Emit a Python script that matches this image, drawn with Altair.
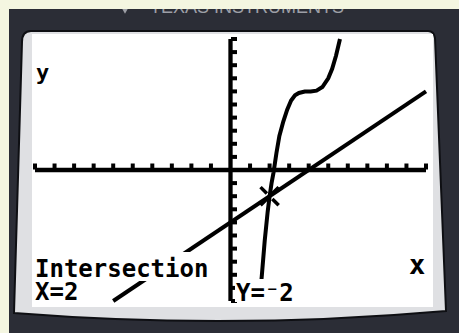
import altair as alt
import pandas as pd

# Graph window: Xmin=-10, Xmax=10, Ymin=-10, Ymax=10, Xscl=Yscl=1
x_window = [-10, 10]
y_window = [-10, 10]
tick_marks = [-10, -9, -8, -7, -6, -5, -4, -3, -2, -1, 1, 2, 3, 4, 5, 6, 7, 8, 9, 10]

# Y1: the cubic-looking curve, traced points
curve_x = [1.48, 1.6, 1.75, 1.9, 2.0, 2.1, 2.2, 2.35, 2.5, 2.7, 2.9, 3.1, 3.3,
           3.5, 3.8, 4.1, 4.4, 4.7, 5.0, 5.2, 5.4, 5.6]
curve_y = [-10, -8.1, -5.4, -3.2, -2.0, -1.0, -0.2, 1.3, 2.6, 3.7, 4.6, 5.3, 5.7,
           5.88, 5.99, 6.0, 6.06, 6.33, 7.0, 7.73, 8.74, 10.0]

# Y2: the straight line
line_x = [-6, 10]
line_y = [-10, 6]

# Intersection result shown on screen
hit_x = [2]
hit_y = [-2]
label_title = "Intersection"
label_x = "X=2"
label_y = "Y=\u207b2"

BEZEL = "#2b2d36"
CREAM = "#f4f6e1"
FRAME = "#dfe0e3"
FONT = "DejaVu Sans Mono"

W, H = 391, 262
PAD_L, PAD_T = 35, 39

xs = alt.Scale(domain=x_window, nice=False, zero=False)
ys = alt.Scale(domain=y_window, nice=False, zero=False)

one = pd.DataFrame({"k": [0]})


def px_rect(x0, y0, x1, y1, color):
    """Rectangle in absolute page pixels."""
    return alt.Chart(one).mark_rect(color=color, opacity=1).encode(
        x=alt.value(x0 - PAD_L), x2=alt.value(x1 - PAD_L),
        y=alt.value(y0 - PAD_T), y2=alt.value(y1 - PAD_T))


def px_text(s, x, y, size, color="black", font=FONT, weight="bold"):
    return alt.Chart(one).mark_text(
        align="left", baseline="alphabetic", font=font, fontSize=size,
        fontWeight=weight, color=color).encode(
        x=alt.value(x - PAD_L), y=alt.value(y - PAD_T), text=alt.value(s))


# calculator body
bezel = px_rect(9, 9, 470, 340, BEZEL)
logo = alt.Chart(one).mark_point(shape="triangle-down", filled=True, size=170,
                                 color="#9d9fa6", opacity=1).encode(
    x=alt.value(125 - PAD_L), y=alt.value(8 - PAD_T))
brand = px_text("TEXAS INSTRUMENTS", 150, 13, 18, color="#9d9fa6",
                font="Liberation Sans", weight="normal")
top_strip = px_rect(0, 0, 470, 9, CREAM)

# light grey screen surround, drawn as one path around centre (230, 176), scale 250
frame_path = ("M-0.832,-0.536 Q-0.832,-0.58 -0.796,-0.58 L0.792,-0.58 "
              "Q0.816,-0.58 0.82,-0.552 L0.864,0.54 Q0,0.616 -0.864,0.548 Z")
frame = alt.Chart(one).mark_point(
    shape=frame_path, size=250000, filled=True, fill=FRAME, stroke="#0e0f13",
    strokeWidth=2, opacity=1).encode(
    x=alt.value(230 - PAD_L), y=alt.value(176 - PAD_T))
screen = px_rect(32, 34, 433, 307, "white")

# axes and tick marks
axes_df = pd.DataFrame({"a0": [x_window[0]], "a1": [x_window[1]], "z": [0]})
x_axis = alt.Chart(axes_df).mark_rule(color="black", strokeWidth=4.3).encode(
    x=alt.X("a0:Q", scale=xs, axis=None), x2="a1:Q",
    y=alt.Y("z:Q", scale=ys, axis=None))
axes_df2 = pd.DataFrame({"b0": [y_window[0]], "b1": [y_window[1]], "z": [0]})
y_axis = alt.Chart(axes_df2).mark_rule(color="black", strokeWidth=4.3).encode(
    y=alt.Y("b0:Q", scale=ys, axis=None), y2="b1:Q",
    x=alt.X("z:Q", scale=xs, axis=None))

ticks_df = pd.DataFrame({"t": tick_marks, "z": [0] * len(tick_marks)})
x_ticks = alt.Chart(ticks_df).mark_tick(
    orient="vertical", size=6, thickness=4, yOffset=-3.5, color="black", opacity=1).encode(
    x=alt.X("t:Q", scale=xs, axis=None), y=alt.Y("z:Q", scale=ys, axis=None))
y_ticks = alt.Chart(ticks_df).mark_tick(
    orient="horizontal", size=6, thickness=4, xOffset=3.5, color="black", opacity=1).encode(
    y=alt.Y("t:Q", scale=ys, axis=None), x=alt.X("z:Q", scale=xs, axis=None))

# graphed functions
line_df = pd.DataFrame({"x": line_x, "y": line_y})
curve_df = pd.DataFrame({"x": curve_x, "y": curve_y})
line = alt.Chart(line_df).mark_line(color="black", strokeWidth=4).encode(
    x=alt.X("x:Q", scale=xs, axis=None), y=alt.Y("y:Q", scale=ys, axis=None))
curve = alt.Chart(curve_df).mark_line(color="black", strokeWidth=4).encode(
    x=alt.X("x:Q", scale=xs, axis=None), y=alt.Y("y:Q", scale=ys, axis=None),
    order="x:Q")

# trace cursor at the intersection
hit_df = pd.DataFrame({"x": hit_x, "y": hit_y})
cursor = alt.Chart(hit_df).mark_point(
    shape="M-1,-1L-0.3,-0.3M1,1L0.3,0.3M-1,1L-0.3,0.3M1,-1L0.3,-0.3",
    size=330, filled=False, stroke="black", strokeWidth=3.5, opacity=1).encode(
    x=alt.X("x:Q", scale=xs, axis=None), y=alt.Y("y:Q", scale=ys, axis=None))

# text cells clear the graph behind them
cell_title = px_rect(34, 252, 215, 281, "white")
cell_x = px_rect(34, 281, 85, 302, "white")
cell_y = px_rect(235, 279, 302, 302, "white")

txt_title = px_text(label_title, 35, 277, 24)
txt_x = px_text(label_x, 35, 300, 24)
txt_y = px_text(label_y, 236, 301, 24)
axis_lbl_y = px_text("y", 36, 80, 22)
axis_lbl_x = px_text("x", 409, 274, 27)

chart = alt.layer(
    bezel, logo, brand, top_strip, frame, screen,
    x_axis, y_axis, x_ticks, y_ticks, line, curve, cursor,
    cell_title, cell_x, cell_y,
    txt_title, txt_x, txt_y, axis_lbl_y, axis_lbl_x,
).properties(
    width=W, height=H,
    padding={"left": PAD_L, "top": PAD_T, "right": 459 - PAD_L - W, "bottom": 333 - PAD_T - H},
    autosize=alt.AutoSizeParams(type="none"),
    background=CREAM,
).configure_view(strokeWidth=0)

chart.save("out.html", embed_options={"renderer": "svg", "actions": False})
